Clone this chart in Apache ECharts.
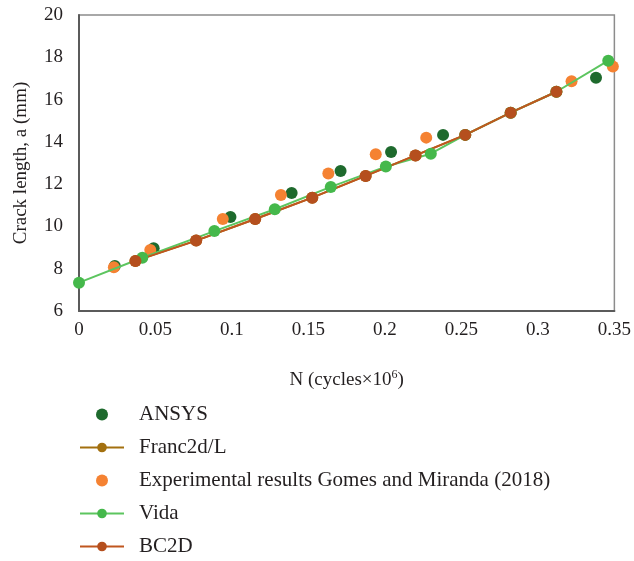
<!DOCTYPE html>
<html>
<head>
<meta charset="utf-8">
<script src="https://cdn.jsdelivr.net/npm/echarts@6/dist/echarts.min.js"></script>
<style>
  html, body { margin: 0; padding: 0; background: #fff; }
  #chart { width: 634px; height: 561px; }
</style>
</head>
<body>
<div id="chart"></div>
<script>
// values (N in million cycles, a in mm)
var ansysN = [0.0234, 0.0488, 0.099, 0.139, 0.171, 0.204, 0.238, 0.338];
var ansysA = [8.13, 8.97, 10.45, 11.58, 12.62, 13.52, 14.33, 17.03];

var expN = [0.0228, 0.0466, 0.094, 0.132, 0.163, 0.194, 0.227, 0.322, 0.349];
var expA = [8.07, 8.89, 10.35, 11.49, 12.5, 13.41, 14.2, 16.87, 17.56];

var vidaN = [0, 0.0414, 0.0885, 0.128, 0.1646, 0.2006, 0.230, 0.2525, 0.2822, 0.3121, 0.346];
var vidaA = [7.34, 8.52, 9.78, 10.81, 11.87, 12.83, 13.44, 14.33, 15.38, 16.37, 17.84];

var bc2dN = [0.0369, 0.0766, 0.1152, 0.1525, 0.1874, 0.220, 0.2525, 0.2822, 0.3121];
var bc2dA = [8.37, 9.33, 10.35, 11.36, 12.39, 13.36, 14.33, 15.38, 16.37];

// Franc2d/L sits right under BC2D in the figure
var francN = bc2dN.slice();
var francA = bc2dA.slice();

var xTicks = [0, 0.05, 0.1, 0.15, 0.2, 0.25, 0.3, 0.35];
var yTicks = [6, 8, 10, 12, 14, 16, 18, 20];

var legendNames = ['ANSYS', 'Franc2d/L', 'Experimental results Gomes and Miranda (2018)', 'Vida', 'BC2D'];

function pairs(xs, ys) {
  return xs.map(function (x, i) { return [x, ys[i]]; });
}

var font = "'Liberation Serif', 'DejaVu Serif', serif";
var ink = '#231f20';
var chart = echarts.init(document.getElementById('chart'));

chart.setOption({
  animation: false,
  textStyle: { fontFamily: font, color: ink },
  grid: {
    left: 79, right: 17, top: 15, bottom: 250,
    show: true, borderColor: '#8c8c8c', borderWidth: 1.5
  },
  xAxis: {
    type: 'value',
    min: xTicks[0], max: xTicks[xTicks.length - 1], interval: 0.05,
    axisLine: { lineStyle: { color: '#5b5b5b', width: 2 } },
    axisTick: { show: false },
    splitLine: { show: false },
    axisLabel: { fontSize: 19, color: ink, fontFamily: font, margin: 10 },
    name: '{a|N (cycles×10}{s|6}{a|)}',
    nameLocation: 'middle',
    nameGap: 58,
    nameTextStyle: {
      rich: {
        a: { fontSize: 19, fontFamily: font, color: ink },
        s: { fontSize: 12, fontFamily: font, color: ink, padding: [0, 0, 10, 0] }
      }
    }
  },
  yAxis: {
    type: 'value',
    min: yTicks[0], max: yTicks[yTicks.length - 1], interval: 2,
    axisLine: { show: true, lineStyle: { color: '#5b5b5b', width: 2 } },
    axisTick: { show: false },
    splitLine: { show: false },
    axisLabel: { fontSize: 19, color: ink, fontFamily: font, margin: 16 },
    name: 'Crack length, a (mm)',
    nameLocation: 'middle',
    nameGap: 48,
    nameTextStyle: { fontSize: 19, fontFamily: font, color: ink }
  },
  legend: {
    orient: 'vertical',
    left: 79, top: 404, height: 170,
    padding: 0,
    itemWidth: 44, itemHeight: 12, itemGap: 12,
    data: legendNames,
    textStyle: { fontSize: 21, lineHeight: 20, fontFamily: font, color: ink, padding: [0, 0, 0, 10] }
  },
  series: [
    {
      name: 'Franc2d/L', type: 'line', data: pairs(francN, francA),
      symbol: 'circle', symbolSize: 12,
      itemStyle: { color: '#a3700f' }, lineStyle: { color: '#a3700f', width: 2 }
    },
    {
      name: 'Vida', type: 'line', data: pairs(vidaN, vidaA),
      symbol: 'circle', symbolSize: 12,
      itemStyle: { color: '#45b84b' }, lineStyle: { color: '#5cc55f', width: 2 }
    },
    {
      name: 'BC2D', type: 'line', data: pairs(bc2dN, bc2dA),
      symbol: 'circle', symbolSize: 12,
      itemStyle: { color: '#b54f1e' }, lineStyle: { color: '#c0561f', width: 2 }
    },
    {
      name: 'ANSYS', type: 'scatter', data: pairs(ansysN, ansysA),
      symbol: 'circle', symbolSize: 12,
      itemStyle: { color: '#1e6a2d', opacity: 1 }
    },
    {
      name: 'Experimental results Gomes and Miranda (2018)', type: 'scatter', data: pairs(expN, expA),
      symbol: 'circle', symbolSize: 12,
      itemStyle: { color: '#f58232', opacity: 1 }
    }
  ]
});
</script>
</body>
</html>
